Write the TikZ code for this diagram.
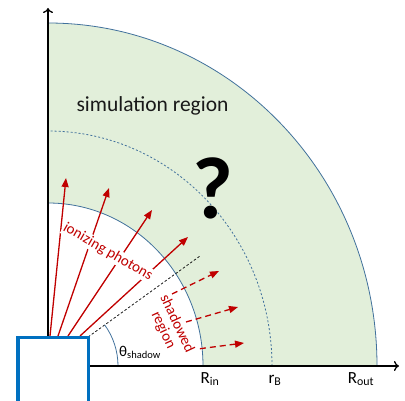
\documentclass[tikz,border=0pt]{standalone}
\usepackage{fontspec}
\setmainfont{Carlito}
\usetikzlibrary{arrows.meta}
\definecolor{simgreen}{HTML}{E2EFDA}
\definecolor{arcblue}{HTML}{41719C}
\definecolor{photonred}{HTML}{C00000}
\definecolor{boxblue}{HTML}{0070C0}

\begin{document}
\begin{tikzpicture}[
    x=1pt, y=1pt,
    bound/.style={draw=arcblue, line width=0.8pt},
    axis/.style={line width=1.3pt, -{To[length=5pt,width=10pt]}},
    photon/.style={photonred, line width=1.3pt, -{Triangle[length=9pt,width=7pt]}},
    shadowray/.style={photon, dash pattern=on 6pt off 4pt},
    redtext/.style={photonred, font=\fontsize{15}{15}\selectfont, fill=white, inner sep=1pt},
    rlabel/.style={anchor=base, font=\fontsize{17}{20}\selectfont}
]
    \useasboundingbox (0,0) rectangle (405,400);
    \coordinate (O) at (48,34);

    % simulation region between R_in and R_out
    \fill[simgreen] (203,34) -- (377,34) arc[start angle=0, end angle=90, x radius=329pt, y radius=343pt]
        -- (48,197) arc[start angle=90, end angle=0, x radius=155pt, y radius=163pt] -- cycle;
    \draw[bound] (203,34) arc[start angle=0, end angle=90, x radius=155pt, y radius=163pt];
    \draw[bound] (377,34) arc[start angle=0, end angle=90, x radius=329pt, y radius=343pt];
    \draw[bound, dash pattern=on 2pt off 2pt] (272,34) arc[start angle=0, end angle=90, x radius=224pt, y radius=235pt];

    % shadow angle
    \coordinate (shadowend) at (200,144);
    \draw[black, line width=0.7pt, dash pattern=on 2.5pt off 2pt] (O) -- (shadowend);
    \draw[bound] (118,34) arc[start angle=0, end angle=36, radius=70pt];

    % axes
    \draw[axis] (O) -- (399,34);
    \draw[axis] (O) -- (48,392);

    % photons
    \foreach \sx/\ex/\ey in {50/66/222, 58/109/212, 68/152/190, 80/188/163}
        \draw[photon] (\sx,64) -- (\ex,\ey);
    \foreach \sx/\sy/\ex/\ey in {172/106/219/129, 186/78/238/93, 190/50/244/57}
        \draw[shadowray] (\sx,\sy) -- (\ex,\ey);

    \node[redtext, rotate=-30] (photons) at (108,148) {ionizing photons};
    \node[redtext, rotate=-65, align=center] (shadowed) at (170,73) {shadowed\\region};

    % source
    \draw[boxblue, line width=3.5pt, fill=white] (18,-10) rectangle (88.5,62.5);

    % labels
    \node[anchor=base west, font=\fontsize{21.5}{24}\selectfont, black!90] (simlabel) at (73,288) {simulation region};
    \node[font=\fontsize{88}{88}\selectfont\bfseries] (question) at (213,212) {?};
    \node[anchor=base west, font=\fontsize{15}{18}\selectfont, inner sep=0pt] (theta) at (119,44) {θ\textsubscript{shadow}};
    \node[rlabel] (rin) at (210,17) {R\textsubscript{in}};
    \node[rlabel] (rb) at (275,17) {r\textsubscript{B}};
    \node[rlabel] (rout) at (361,17) {R\textsubscript{out}};
\end{tikzpicture}
\end{document}
